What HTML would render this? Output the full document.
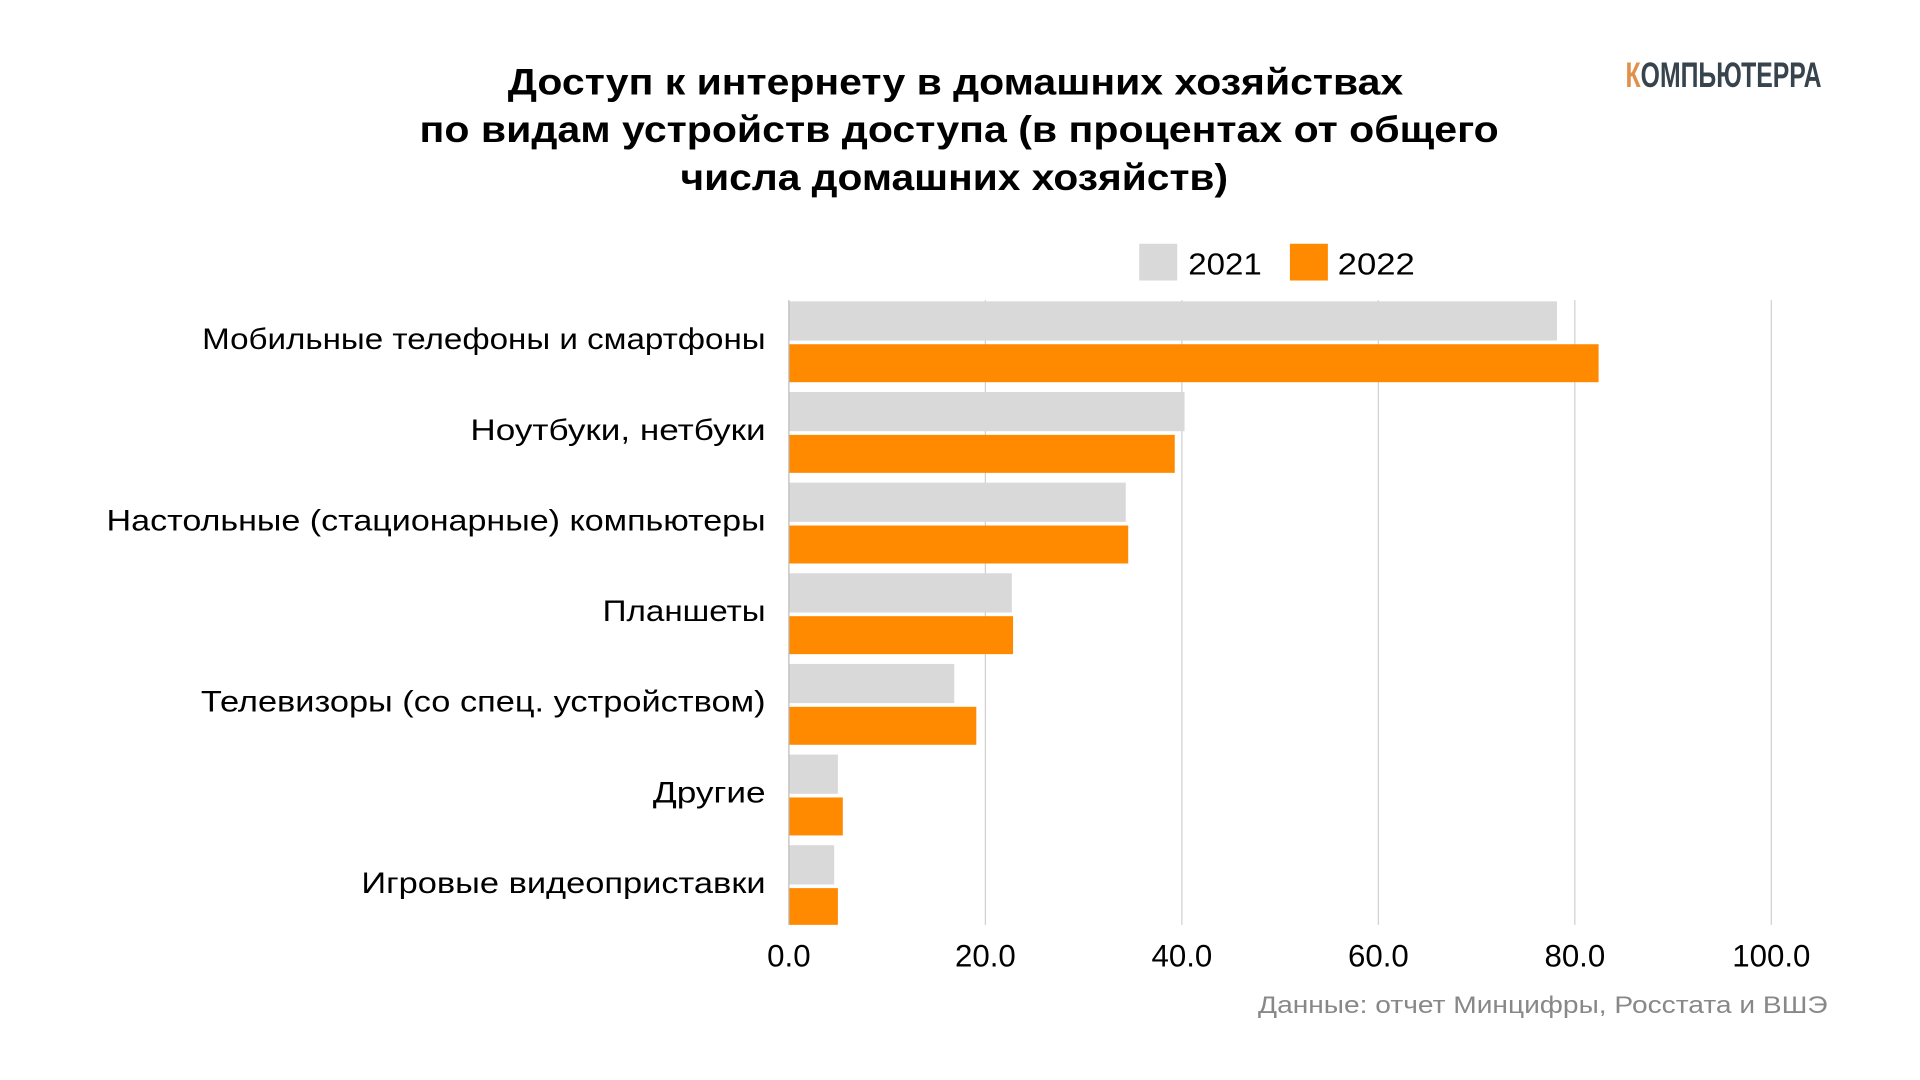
<!DOCTYPE html>
<html><head><meta charset="utf-8"><style>
html,body{margin:0;padding:0;background:#fff;width:1920px;height:1080px;overflow:hidden}
svg{display:block}
text{font-family:"Liberation Sans","DejaVu Sans",sans-serif}
</style></head><body>
<svg width="1920" height="1080" viewBox="0 0 1560 877.5" xmlns="http://www.w3.org/2000/svg">
<rect width="1560" height="877.5" fill="#fff"/>
<g transform="scale(0.9953)">
<g font-weight="bold" font-size="30" fill="#000" text-anchor="middle">
<text x="780" y="77" textLength="731" lengthAdjust="spacingAndGlyphs">Доступ к интернету в домашних хозяйствах</text>
<text x="783" y="116" textLength="881" lengthAdjust="spacingAndGlyphs">по видам устройств доступа (в процентах от общего</text>
<text x="779" y="155" textLength="447" lengthAdjust="spacingAndGlyphs">числа домашних хозяйств)</text>
</g>
<text x="1327" y="71" font-size="29" font-weight="bold" fill="#37444e" textLength="160" lengthAdjust="spacingAndGlyphs"><tspan fill="#e0904a">К</tspan>ОМПЬЮТЕРРА</text>
<rect x="930" y="199" width="31" height="30" fill="#d9d9d9"/>
<text x="970" y="224" font-size="25" fill="#000" textLength="60" lengthAdjust="spacingAndGlyphs">2021</text>
<rect x="1053" y="199" width="31" height="30" fill="#ff8a00"/>
<text x="1092" y="224" font-size="25" fill="#000" textLength="63" lengthAdjust="spacingAndGlyphs">2022</text>
<g stroke="#d0d0d0" stroke-width="1">
<line x1="804.4" y1="245" x2="804.4" y2="755"/>
<line x1="964.8" y1="245" x2="964.8" y2="755"/>
<line x1="1125.2" y1="245" x2="1125.2" y2="755"/>
<line x1="1285.6" y1="245" x2="1285.6" y2="755"/>
<line x1="1446" y1="245" x2="1446" y2="755"/>
</g>
<g>
<rect x="644" y="246" width="627" height="32" fill="#d9d9d9"/><rect x="644" y="281" width="661" height="31" fill="#ff8a00"/>
<rect x="644" y="320" width="323" height="32" fill="#d9d9d9"/><rect x="644" y="355" width="315" height="31" fill="#ff8a00"/>
<rect x="644" y="394" width="275" height="32" fill="#d9d9d9"/><rect x="644" y="429" width="277" height="31" fill="#ff8a00"/>
<rect x="644" y="468" width="182" height="32" fill="#d9d9d9"/><rect x="644" y="503" width="183" height="31" fill="#ff8a00"/>
<rect x="644" y="542" width="135" height="32" fill="#d9d9d9"/><rect x="644" y="577" width="153" height="31" fill="#ff8a00"/>
<rect x="644" y="616" width="40" height="32" fill="#d9d9d9"/><rect x="644" y="651" width="44" height="31" fill="#ff8a00"/>
<rect x="644" y="690" width="37" height="32" fill="#d9d9d9"/><rect x="644" y="725" width="40" height="30" fill="#ff8a00"/>
</g>
<line x1="644" y1="245" x2="644" y2="755" stroke="#bbb" stroke-width="1"/>
<g font-size="24" fill="#000" text-anchor="end">
<text x="625" y="285" textLength="460" lengthAdjust="spacingAndGlyphs">Мобильные телефоны и смартфоны</text>
<text x="625" y="359" textLength="241" lengthAdjust="spacingAndGlyphs">Ноутбуки, нетбуки</text>
<text x="625" y="433" textLength="538" lengthAdjust="spacingAndGlyphs">Настольные (стационарные) компьютеры</text>
<text x="625" y="507" textLength="133" lengthAdjust="spacingAndGlyphs">Планшеты</text>
<text x="625" y="581" textLength="461" lengthAdjust="spacingAndGlyphs">Телевизоры (со спец. устройством)</text>
<text x="625" y="655" textLength="92" lengthAdjust="spacingAndGlyphs">Другие</text>
<text x="625" y="729" textLength="330" lengthAdjust="spacingAndGlyphs">Игровые видеоприставки</text>
</g>
<g font-size="25.5" fill="#000" text-anchor="middle">
<text x="644" y="789">0.0</text>
<text x="804.4" y="789">20.0</text>
<text x="964.8" y="789">40.0</text>
<text x="1125.2" y="789">60.0</text>
<text x="1285.6" y="789">80.0</text>
<text x="1446" y="789">100.0</text>
</g>
<text x="1492" y="827" font-size="20" fill="#888" text-anchor="end" textLength="465" lengthAdjust="spacingAndGlyphs">Данные: отчет Минцифры, Росстата и ВШЭ</text>
</g>
</svg>
</body></html>
